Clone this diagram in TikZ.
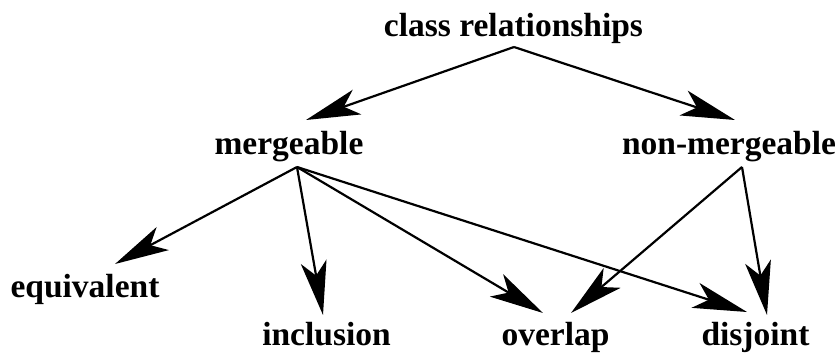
\documentclass[tikz,border=0pt]{standalone}
\usepackage{fontspec}
\setmainfont{Liberation Serif}
\usetikzlibrary{arrows.meta}
\begin{document}
\begin{tikzpicture}[x=1pt,y=-1pt,
  lbl/.style={font=\bfseries\fontsize{33.5}{36}\selectfont, inner sep=0pt, anchor=base},
  link/.style={line width=2.2pt, -{Stealth[length=54pt,width=26pt,inset=14pt]}}]
\useasboundingbox (0,0) rectangle (839,354);
\node[lbl] (cr) at (513.5,36) {class relationships};
\node[lbl] (m)  at (289,154) {mergeable};
\node[lbl] (nm) at (729,154) {non-mergeable};
\node[lbl] (eq) at (85,297) {equivalent};
\node[lbl] (inc) at (326.5,345) {inclusion};
\node[lbl] (ov) at (555.5,345) {overlap};
\node[lbl] (dj) at (755.5,345) {disjoint};
% connector end points
\coordinate (cr-o) at (514,47);
\coordinate (m-i) at (306,120);
\coordinate (nm-i) at (735,120);
\coordinate (m-o) at (297,167);
\coordinate (nm-o) at (742,167);
\coordinate (eq-i) at (115,264);
\coordinate (inc-i) at (323,315);
\coordinate (ov-i1) at (543,313);
\coordinate (ov-i2) at (571,313);
\coordinate (dj-i1) at (747,312);
\coordinate (dj-i2) at (767,315);
\draw[link] (cr-o) -- (m-i);
\draw[link] (cr-o) -- (nm-i);
\draw[link] (m-o) -- (eq-i);
\draw[link] (m-o) -- (inc-i);
\draw[link] (m-o) -- (ov-i1);
\draw[link] (m-o) -- (dj-i1);
\draw[link] (nm-o) -- (ov-i2);
\draw[link] (nm-o) -- (dj-i2);
\end{tikzpicture}
\end{document}
